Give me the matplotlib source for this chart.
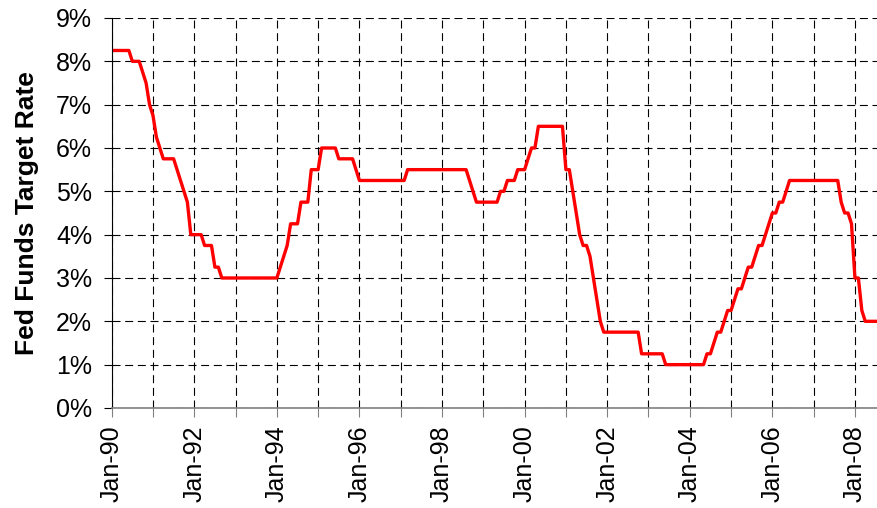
import matplotlib.pyplot as plt
import numpy as np

# end-of-month fed funds target rate (%), Jan-1990 .. Jul-2008
rates = [
    8.25, 8.25, 8.25, 8.25, 8.25, 8.25, 8.00, 8.00, 8.00, 7.75, 7.50, 7.00,  # 1990
    6.75, 6.25, 6.00, 5.75, 5.75, 5.75, 5.75, 5.50, 5.25, 5.00, 4.75, 4.00,  # 1991
    4.00, 4.00, 4.00, 3.75, 3.75, 3.75, 3.25, 3.25, 3.00, 3.00, 3.00, 3.00,  # 1992
    3.00, 3.00, 3.00, 3.00, 3.00, 3.00, 3.00, 3.00, 3.00, 3.00, 3.00, 3.00,  # 1993
    3.00, 3.25, 3.50, 3.75, 4.25, 4.25, 4.25, 4.75, 4.75, 4.75, 5.50, 5.50,  # 1994
    5.50, 6.00, 6.00, 6.00, 6.00, 6.00, 5.75, 5.75, 5.75, 5.75, 5.75, 5.50,  # 1995
    5.25, 5.25, 5.25, 5.25, 5.25, 5.25, 5.25, 5.25, 5.25, 5.25, 5.25, 5.25,  # 1996
    5.25, 5.25, 5.50, 5.50, 5.50, 5.50, 5.50, 5.50, 5.50, 5.50, 5.50, 5.50,  # 1997
    5.50, 5.50, 5.50, 5.50, 5.50, 5.50, 5.50, 5.50, 5.25, 5.00, 4.75, 4.75,  # 1998
    4.75, 4.75, 4.75, 4.75, 4.75, 5.00, 5.00, 5.25, 5.25, 5.25, 5.50, 5.50,  # 1999
    5.50, 5.75, 6.00, 6.00, 6.50, 6.50, 6.50, 6.50, 6.50, 6.50, 6.50, 6.50,  # 2000
    5.50, 5.50, 5.00, 4.50, 4.00, 3.75, 3.75, 3.50, 3.00, 2.50, 2.00, 1.75,  # 2001
    1.75, 1.75, 1.75, 1.75, 1.75, 1.75, 1.75, 1.75, 1.75, 1.75, 1.25, 1.25,  # 2002
    1.25, 1.25, 1.25, 1.25, 1.25, 1.00, 1.00, 1.00, 1.00, 1.00, 1.00, 1.00,  # 2003
    1.00, 1.00, 1.00, 1.00, 1.00, 1.25, 1.25, 1.50, 1.75, 1.75, 2.00, 2.25,  # 2004
    2.25, 2.50, 2.75, 2.75, 3.00, 3.25, 3.25, 3.50, 3.75, 3.75, 4.00, 4.25,  # 2005
    4.50, 4.50, 4.75, 4.75, 5.00, 5.25, 5.25, 5.25, 5.25, 5.25, 5.25, 5.25,  # 2006
    5.25, 5.25, 5.25, 5.25, 5.25, 5.25, 5.25, 5.25, 4.75, 4.50, 4.50, 4.25,  # 2007
    3.00, 3.00, 2.25, 2.00, 2.00, 2.00, 2.00,                                # 2008
]
tick_labels = ['Jan-90', 'Jan-92', 'Jan-94', 'Jan-96', 'Jan-98',
               'Jan-00', 'Jan-02', 'Jan-04', 'Jan-06', 'Jan-08']

plt.rcParams['font.family'] = ['Liberation Sans', 'DejaVu Sans']

fig = plt.figure(figsize=(8.78, 5.08), dpi=100)
ax = fig.add_axes([0.1272, 0.1969, 0.8728, 0.7677])

months = np.arange(len(rates))
ax.plot(months, rates, color='#ff0000', lw=2.4, solid_joinstyle='round')

ax.set_xlim(0, 222.7)
ax.set_ylim(0, 9)

ax.set_xticks(np.arange(0, 223, 12))
ax.set_xticklabels([tick_labels[i // 2] if i % 2 == 0 else '' for i in range(19)],
                   rotation=90, fontsize=18)
ax.set_yticks(range(10))
ax.set_yticklabels([f'{i}%' for i in range(10)], fontsize=18)

ax.grid(True, color='black', lw=0.8, linestyle=(0, (7.2, 4.2)))
ax.set_axisbelow(True)

ax.spines['top'].set_visible(False)
ax.spines['right'].set_visible(False)
ax.spines['left'].set_color('black')
ax.spines['bottom'].set_color('#808080')
ax.spines['bottom'].set_linewidth(1.2)
ax.tick_params(axis='x', length=6.5, color='#808080', pad=6)
ax.tick_params(axis='y', length=6, color='black', pad=8)

ax.set_ylabel('Fed Funds Target Rate', fontsize=19, fontweight='bold', labelpad=12)

fig.savefig('out.png', dpi=100)
